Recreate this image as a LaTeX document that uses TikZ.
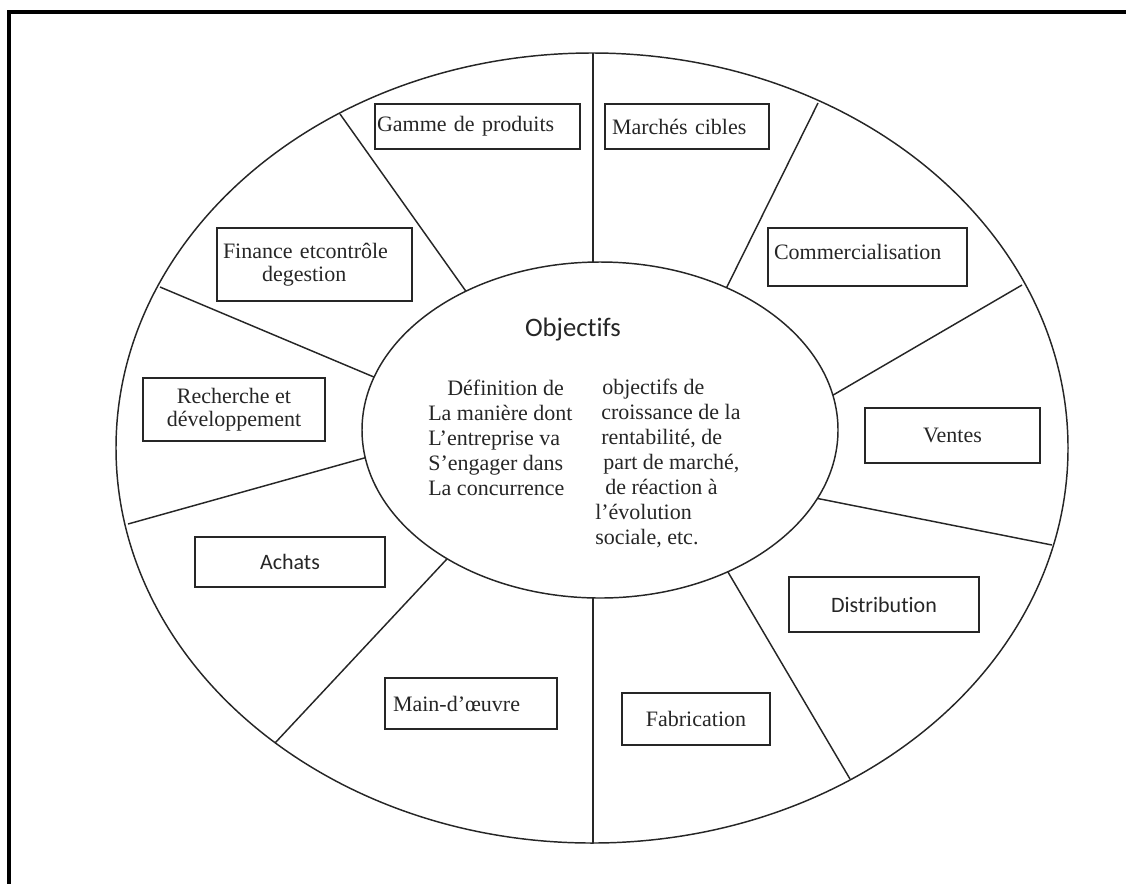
\documentclass[tikz,border=0pt]{standalone}
\usepackage{fontspec}
\setmainfont{Liberation Serif}
\newfontfamily\calib[Ligatures={NoCommon,NoContextual}]{Carlito}
\usetikzlibrary{shapes.geometric}
\begin{document}
\begin{tikzpicture}[x=0.75pt,y=-0.75pt,
  color=black!85,
  box/.style={draw, line width=1.1pt, rectangle, inner sep=0pt,
    font=\fontsize{16.5}{17.25}\selectfont},
  sz/.style 2 args={minimum width=#1*0.75pt, minimum height=#2*0.75pt},
  divider/.style={draw, line width=1.1pt},
  ring/.style={draw, ellipse, line width=1.1pt, inner sep=0pt},
  coltext/.style={inner sep=0pt, align=left, anchor=west,
    font=\fontsize{16.5}{18.75}\selectfont}
  ]
\useasboundingbox (0,0) rectangle (1126,883);
\begin{scope}
  \clip (0,0) rectangle (1126,883);
  \draw[line width=3pt, black] (9,12) rectangle (1160,920);
\end{scope}

% outer ellipse
\node[ring, minimum width=714pt, minimum height=592.5pt] (outer) at (592,448) {};

% dividers
\coordinate (o1) at (593,53);   \coordinate (i1) at (593,300);
\coordinate (o2) at (818,103);  \coordinate (i2) at (715,311);
\coordinate (o3) at (1022,285); \coordinate (i3) at (804,412);
\coordinate (o4) at (1052,545); \coordinate (i4) at (780,491);
\coordinate (o5) at (850,779);  \coordinate (i5) at (715,550);
\coordinate (o6) at (593,843);  \coordinate (i6) at (593,560);
\coordinate (o7) at (275,743);  \coordinate (i7) at (460,545);
\coordinate (o8) at (128,524);  \coordinate (i8) at (400,448);
\coordinate (o9) at (160,287);  \coordinate (i9) at (400,388);
\coordinate (o10) at (340,114); \coordinate (i10) at (470,297);
\foreach \k in {1,...,10} \draw[divider] (o\k) -- (i\k);

% inner ellipse
\node[ring, fill=white, minimum width=357pt, minimum height=252pt] (inner) at (600,430) {};

\node[font=\calib\fontsize{20}{24}\selectfont] (obj) at (573,330) {Objectifs};
\node[coltext] (left) at (428,438) {\hspace*{14.25pt}Définition de\\La manière dont\\L’entreprise va\\S’engager dans\\La concurrence};
\node[coltext] (right) at (595,463) {\hspace*{5.25pt}objectifs de\\\hspace*{4.5pt}croissance de la\\\hspace*{4.5pt}rentabilité, de\\\hspace*{6pt}part de marché,\\\hspace*{7.5pt}de réaction à\\l’évolution\\sociale, etc.};

% boxes
\node[box, sz={205}{45}, align=left, inner xsep=1.5pt, text width=150.75pt] (gamme) at (477.5,126.5) {Gamme de produits};
\node[box, sz={164}{45}, align=left, inner xsep=5.25pt, text width=112.5pt] (marches) at (687,126.5) {Marchés cibles};
\node[box, sz={199}{58}, align=left, inner xsep=4.5pt, text width=140.25pt, text depth=7.5pt] (comm) at (867.5,257) {Commercialisation};
\node[box, sz={195}{73}, align=left, inner xsep=4.5pt, text width=137.25pt] (finance) at (314.5,264.5) {Finance etcontrôle\\\hspace*{29.25pt}degestion};
\node[box, sz={182}{63}, align=center] (rech) at (234,409.5) {Recherche et\\développement};
\node[box, sz={190}{50}, font=\calib\fontsize{16.5}{17.25}\selectfont] (achats) at (290,562) {Achats};
\node[box, sz={172}{51}, align=left, inner xsep=6pt, text width=117pt] (main) at (471,703.5) {Main-d’œuvre};
\node[box, sz={148}{52}] (fab) at (696,719) {Fabrication};
\node[box, sz={190}{55}, font=\calib\fontsize{16.5}{17.25}\selectfont] (distr) at (884,604.5) {Distribution};
\node[box, sz={175}{55}] (ventes) at (952.5,435.5) {Ventes};
\end{tikzpicture}
\end{document}
